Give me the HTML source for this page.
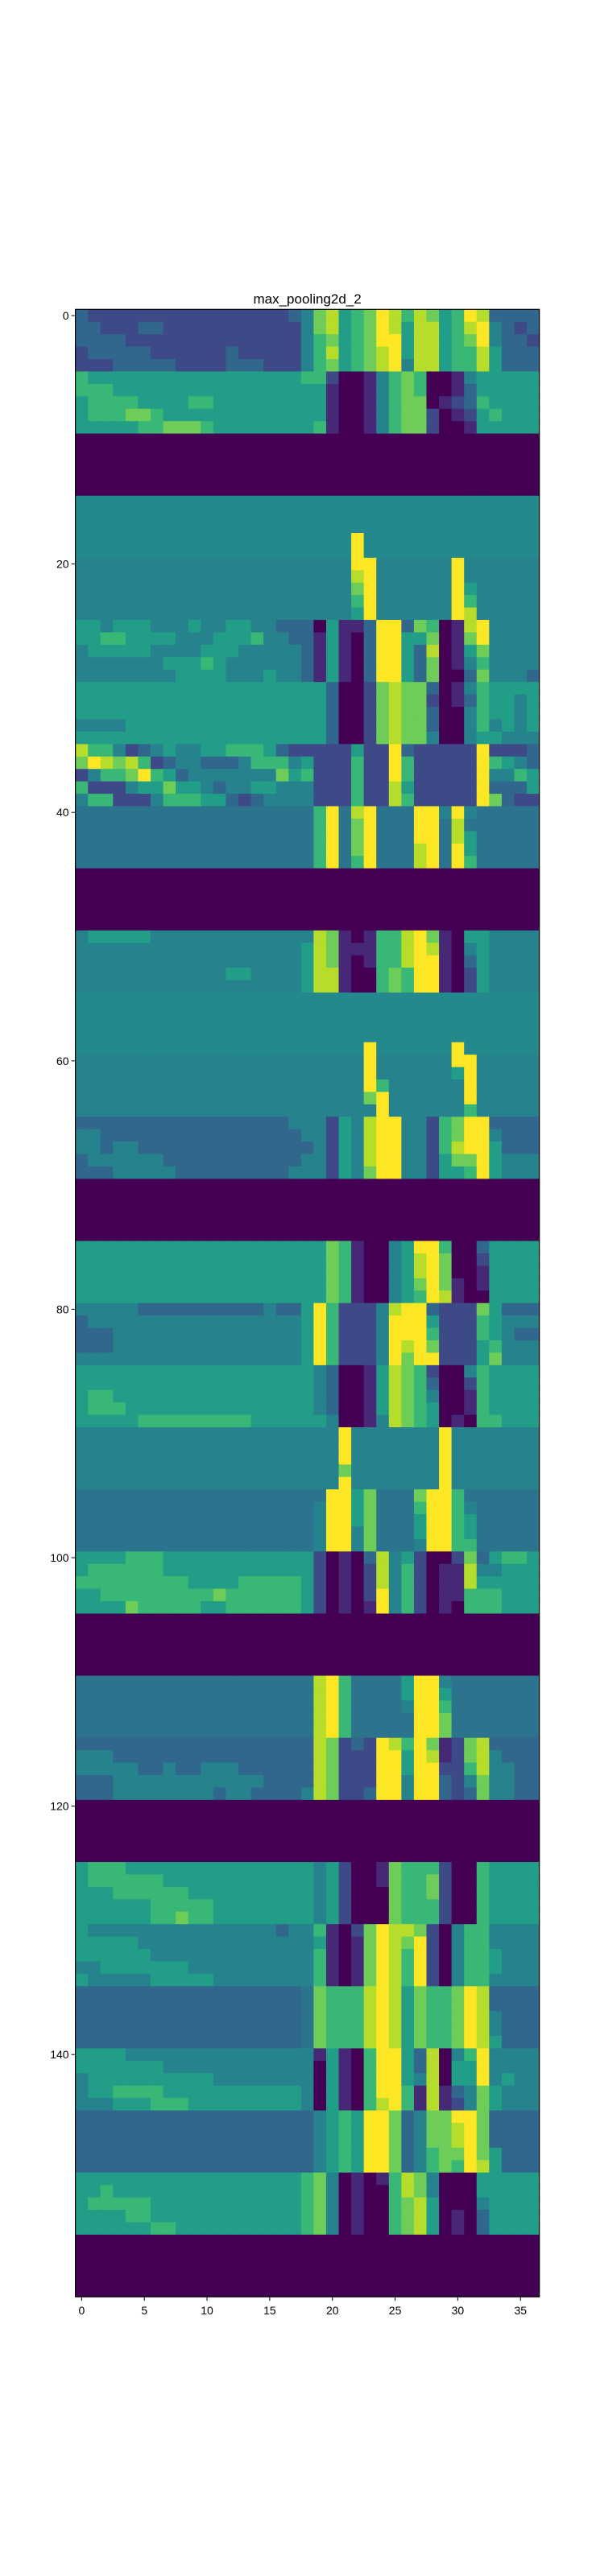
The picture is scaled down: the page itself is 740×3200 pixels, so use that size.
<!DOCTYPE html>
<html><head><meta charset="utf-8"><style>
html,body{margin:0;padding:0;background:#fff;}
svg{display:block;}
text{font-family:"Liberation Sans","DejaVu Sans",sans-serif;fill:#000;}
</style></head><body>
<svg id="chart" width="740" height="3200" viewBox="0 0 740 3200" xmlns="http://www.w3.org/2000/svg">
<rect x="0" y="0" width="740" height="3200" fill="#fff"/>
<text x="381.6" y="377" font-size="17" text-anchor="middle">max_pooling2d_2</text>
<g id="cells"></g>
<rect x="93.6" y="384.3" width="576" height="2468.8" fill="none" stroke="#000" stroke-width="1.2"/>
<g id="xaxis"></g>
<g id="yaxis"></g>
</svg>
<script>
// ---- data ----
const nCols = 37;
const xTicks = [0,5,10,15,20,25,30,35];
const yTicks = [0,20,40,60,80,100,120,140];
const Z = "0".repeat(37);
const rows = [
"322222222222222223"+"4785679868756983333",
"332223322222222222"+"4785679858856894323",
"333322222222222222"+"4675679958856794332",
"233333222222322222"+"4685678958856685333",
"222333332222333222"+"4675678948856685333",
"6555555555555555556"+"620014676001455555",
"6665555555555555555"+"510014676001355555",
"5666655556655555555"+"510014677012365555",
"5666776555555555555"+"510014677201256555",
"5555566777655555555"+"610014677200155555",
Z,Z,Z,Z,Z,
"a".repeat(37),"a".repeat(37),"a".repeat(37),
"a".repeat(22)+"9"+"a".repeat(14),
"a".repeat(22)+"9"+"a".repeat(14),
"4".repeat(22)+"99"+"4".repeat(6)+"94"+"4".repeat(5),
"4".repeat(22)+"89"+"4".repeat(6)+"94"+"4".repeat(5),
"4".repeat(22)+"79"+"4".repeat(6)+"95"+"4".repeat(5),
"4".repeat(22)+"69"+"4".repeat(6)+"96"+"4".repeat(5),
"4".repeat(22)+"59"+"4".repeat(6)+"98"+"4".repeat(5),
"554555444544554433"+"3051139937601894444",
"556655554445556443"+"3151039955701794444",
"455555444455544444"+"3151039953801574444",
"444444455565444444"+"3151039953701464444",
"444444445555444544"+"3151039953700374443",
"5555555555555555555"+"530027877301465555",
"5555555555555555555"+"530027877201365545",
"5555555555555555555"+"530027877300465545",
"4444555555555555555"+"530027877300464545",
"5555555555555555555"+"530027877400455444",
"8664234544556665322"+"222522932222292223",
"7987862344333466645"+"222622962222296543",
"2466796534444444756"+"222622962222294465",
"6222455755434455444"+"222622852222293335",
"4662224666553234444"+"222622862222297322",
"b".repeat(19)+"69b89bbb99494bbbbb",
"b".repeat(19)+"69b79bbb99b8bbbbbb",
"b".repeat(19)+"69b79bbb99b85bbbbb",
"b".repeat(19)+"69b79bbb89b95bbbbb",
"b".repeat(19)+"69b69bbb89b96bbbbb",
Z,Z,Z,Z,Z,
"4555554444444444444"+"871016689710554444",
"4444444444444444445"+"871116689810454444",
"4444444444444444445"+"871016689910354444",
"4444444444445544445"+"881006769910254444",
"4444444444444444445"+"881006769910254444",
"a".repeat(37),"a".repeat(37),"a".repeat(37),"a".repeat(37),
"a".repeat(23)+"9"+"a".repeat(6)+"9"+"a".repeat(6),
"4".repeat(23)+"94"+"4".repeat(5)+"99"+"4".repeat(5),
"4".repeat(23)+"94"+"4".repeat(5)+"59"+"4".repeat(5),
"4".repeat(23)+"96"+"4".repeat(5)+"49"+"4".repeat(5),
"4".repeat(23)+"79"+"4".repeat(5)+"49"+"4".repeat(5),
"4".repeat(23)+"49"+"4".repeat(5)+"46"+"4".repeat(5),
"3333333333333333344"+"425489944267993333",
"4433333333333333334"+"425489944267994333",
"4434433333333333333"+"425489944268995333",
"3444444333333333334"+"425489944257795444",
"3334444433333333344"+"425479944255695444",
Z,Z,Z,Z,Z,
"5555555555555555555"+"576100459960035555",
"5555555555555555555"+"576100458970025555",
"5555555555555555555"+"576100458970015555",
"5555555555555555555"+"576100457971015555",
"5555555555555555555"+"576100456981005555",
"4444433333333334335"+"962224899322275333",
"3444444444444444445"+"962224999522265444",
"3334444444444444445"+"962224999622265433",
"3334444444444444445"+"962224989722256444",
"4444444444444444445"+"962224979922257444",
"5555555555555555555"+"430015876200465555",
"5555555555555555555"+"430015876300265555",
"5665555555555555555"+"430015876400165555",
"5666555555555555555"+"430015876500165555",
"5555566666666655555"+"540014876501066555",
"4".repeat(21)+"9"+"4".repeat(7)+"9"+"4".repeat(7),
"4".repeat(21)+"9"+"4".repeat(7)+"9"+"4".repeat(7),
"4".repeat(21)+"9"+"4".repeat(7)+"9"+"4".repeat(7),
"4".repeat(21)+"7"+"4".repeat(7)+"9"+"4".repeat(7),
"4".repeat(21)+"9"+"4".repeat(7)+"9"+"4".repeat(7),
"b".repeat(19)+"b9957bbb7996bbbbbb",
"b".repeat(19)+"49957bbb69964bbbbb",
"b".repeat(19)+"49957bbb59965bbbbb",
"b".repeat(19)+"49947bbb59965bbbbb",
"b".repeat(19)+"49947bbb49966bbbbb",
"5555666555555555555"+"201038452002735665",
"5666666555555555555"+"201028462011844555",
"6666666665555666665"+"201028462011855555",
"5566666666676666665"+"201029462011666555",
"5555766666556666665"+"201019462010666555",
Z,Z,Z,Z,Z,
"b".repeat(19)+"896bbbb5994bbbbbbb",
"b".repeat(19)+"896bbbb5995bbbbbbb",
"b".repeat(19)+"896bbbb4996bbbbbbb",
"b".repeat(19)+"896bbbbb997bbbbbbb",
"b".repeat(19)+"896bbbbb997bbbbbbb",
"3333333333333333333"+"872329869712783333",
"4443333333333333333"+"872229959812784333",
"4444433433444333333"+"872229959922684433",
"3334444444444443333"+"872229949932474433",
"3334444444434433334"+"872239949932374433",
Z,Z,Z,Z,Z,
"5666555555555555555"+"452001766620065555",
"5666666555555555555"+"452001766720065555",
"5556666665555555555"+"452000766720065555",
"5555556666655555555"+"452000766620065555",
"5555556676655555555"+"452000766620065555",
"5444444444444444344"+"610279887204664444",
"5555544444444444444"+"510179879204664444",
"5555554444444444444"+"610179869204665444",
"4455555554444444444"+"610179869204665444",
"5444445555544444444"+"610179869204664444",
"333333333333333333b"+"766689857667983333",
"333333333333333333b"+"766689857667983333",
"333333333333333333b"+"766689857667984333",
"333333333333333333b"+"766689857667984333",
"333333333333333333b"+"766689857667985333",
"5555444444444444444"+"151069953804694444",
"5555555444444444444"+"051069953805594444",
"4555555555544444444"+"051069954805594544",
"4556666555555555554"+"051069961813475444",
"4445556665555555554"+"051068961812475444",
"3333333333333333333"+"456599734779973333",
"3333333333333333333"+"456599734778973333",
"3333333333333333333"+"456599734778973333",
"3333333333333333333"+"456599734677975333",
"3333333333333333333"+"456599734676985333",
"5555555555555555556"+"740101687400055555",
"5565555555555555556"+"740100687400055555",
"5666665555555555556"+"740100678500045555",
"5555665555555555556"+"740100678501035555",
"5555556655555555556"+"740100678501035555",
Z,Z,Z,Z,Z
];
const levelChars = {a:0.47, b:0.38, c:0.30};
// ---- scales ----
const plotLeft=93.6, plotTop=384.3, plotW=576, plotH=2468.8;
const nRows = rows.length;
const cw = plotW/nCols, rh = plotH/nRows;
function xScale(c){ return plotLeft + c*cw; }
function yScale(r){ return plotTop + r*rh; }
const stops=["#440154","#482475","#414487","#355f8d","#2a788e","#21918c","#22a884","#44bf70","#7ad151","#bddf26","#fde725"];
function hexToRgb(h){return [1,3,5].map(function(i){return parseInt(h.substr(i,2),16);});}
function viridis(t){t=Math.max(0,Math.min(1,t));var p=t*10,i=Math.min(9,Math.floor(p)),f=p-i;var a=hexToRgb(stops[i]),b=hexToRgb(stops[i+1]);return "rgb("+a.map(function(v,k){return Math.round(v+(b[k]-v)*f);}).join(",")+")";}
function cellValue(ch){ if(Object.prototype.hasOwnProperty.call(levelChars,ch)) return levelChars[ch]; var d=parseInt(ch,10); return isNaN(d)?0:d/9; }
const SVGNS="http://www.w3.org/2000/svg";
const cellGroup=document.getElementById("cells");
rows.forEach(function(row,r){
  for(let c=0;c<nCols;c++){
    const ch=row.charAt(c)||"0";
    const rect=document.createElementNS(SVGNS,"rect");
    rect.setAttribute("x",xScale(c).toFixed(2));
    rect.setAttribute("y",yScale(r).toFixed(2));
    rect.setAttribute("width",(cw+0.6).toFixed(2));
    rect.setAttribute("height",(rh+0.6).toFixed(2));
    rect.setAttribute("fill",viridis(cellValue(ch)));
    
    
    cellGroup.appendChild(rect);
  }
});
const xAxisGroup=document.getElementById("xaxis");
const plotBottom=plotTop+plotH;
xTicks.forEach(function(t){
  const x=xScale(t+0.5);
  const l=document.createElementNS(SVGNS,"line");
  l.setAttribute("x1",x);l.setAttribute("x2",x);l.setAttribute("y1",plotBottom);l.setAttribute("y2",plotBottom+5);
  l.setAttribute("stroke","#000");l.setAttribute("stroke-width","1");
  
  
  xAxisGroup.appendChild(l);
  const tx=document.createElementNS(SVGNS,"text");
  tx.setAttribute("x",x);tx.setAttribute("y",plotBottom+22);tx.setAttribute("font-size","14");tx.setAttribute("text-anchor","middle");
  tx.textContent=String(t);
  
  
  xAxisGroup.appendChild(tx);
});
const yAxisGroup=document.getElementById("yaxis");
yTicks.forEach(function(t){
  const y=yScale(t+0.5);
  const l=document.createElementNS(SVGNS,"line");
  l.setAttribute("x1",plotLeft-5);l.setAttribute("x2",plotLeft);l.setAttribute("y1",y);l.setAttribute("y2",y);
  l.setAttribute("stroke","#000");l.setAttribute("stroke-width","1");
  
  
  yAxisGroup.appendChild(l);
  const tx=document.createElementNS(SVGNS,"text");
  tx.setAttribute("x",plotLeft-8);tx.setAttribute("y",y+5);tx.setAttribute("font-size","14");tx.setAttribute("text-anchor","end");
  tx.textContent=String(t);
  
  
  yAxisGroup.appendChild(tx);
});
</script>
</body></html>
